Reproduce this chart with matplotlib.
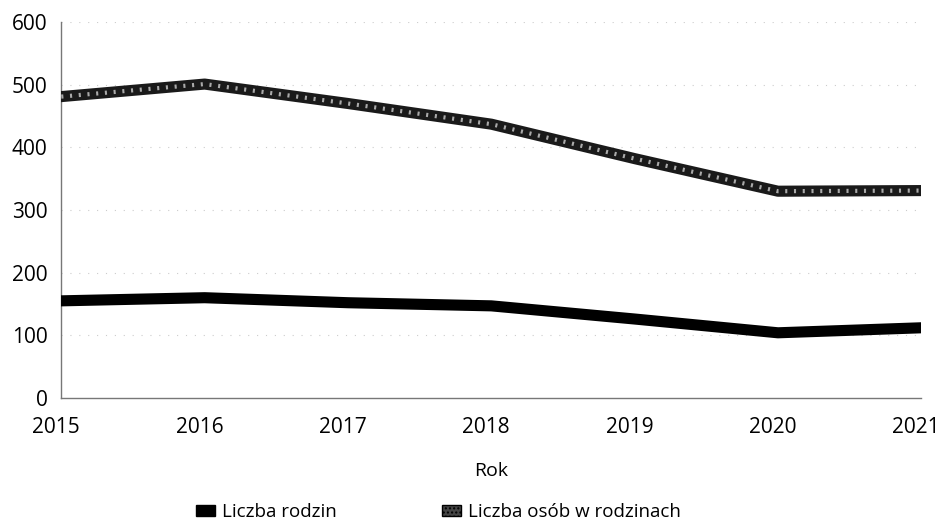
import matplotlib.pyplot as plt
import matplotlib.transforms as mtransforms
from matplotlib.patches import Patch

# data
years = [2015, 2016, 2017, 2018, 2019, 2020, 2021]
rodziny = [155, 160, 152, 147, 126, 104, 112]
osoby = [481, 501, 470, 437, 382, 330, 331]
yticks = [0, 100, 200, 300, 400, 500, 600]

plt.rcParams['font.family'] = ['Open Sans', 'DejaVu Sans']

fig = plt.figure(figsize=(9.43, 5.25), dpi=100)
ax = fig.add_axes([0.065, 0.242, 0.912, 0.716])

# faint dotted grid, as on the scan
for v in yticks[1:]:
    ax.axhline(v, color='#cccccc', lw=0.8, ls=(0, (1, 7)), zorder=1)

ax.plot(years, rodziny, color='black', lw=8, solid_joinstyle='round', zorder=3)
ax.plot(years, osoby, color='#1a1a1a', lw=8, solid_joinstyle='round', zorder=3)
# stipple texture on the second series
ax.plot(years, osoby, color='#aaaaaa', lw=3, ls=(0, (0.5, 1.6)), zorder=4)

ax.set_xlim(2015, 2021)
ax.set_ylim(0, 600)
ax.set_xticks(years)
ax.set_yticks(yticks)
ax.tick_params(length=0, labelsize=15)
ax.tick_params(axis='x', pad=14)
ax.tick_params(axis='y', pad=10)

# year labels sit a few px left of the data points on the original
shift = mtransforms.ScaledTranslation(-5 / 100, 0, fig.dpi_scale_trans)
for lab in ax.get_xticklabels():
    lab.set_transform(lab.get_transform() + shift)

for s in ['top', 'right']:
    ax.spines[s].set_visible(False)
for s in ['left', 'bottom']:
    ax.spines[s].set_color('#777777')
    ax.spines[s].set_linewidth(1.0)

ax.set_xlabel('Rok', fontsize=14, labelpad=17)

handles = [Patch(facecolor='black', edgecolor='black'),
           Patch(facecolor='#444444', edgecolor='black', hatch='....')]
fig.legend(handles, ['Liczba rodzin', 'Liczba osób w rodzinach'],
           loc='center', bbox_to_anchor=(0.465, 0.025), ncol=2, frameon=False,
           fontsize=13.5, handlelength=1.0, handleheight=0.55, handletextpad=0.4,
           columnspacing=5.6)

fig.savefig('out.png', dpi=100)
